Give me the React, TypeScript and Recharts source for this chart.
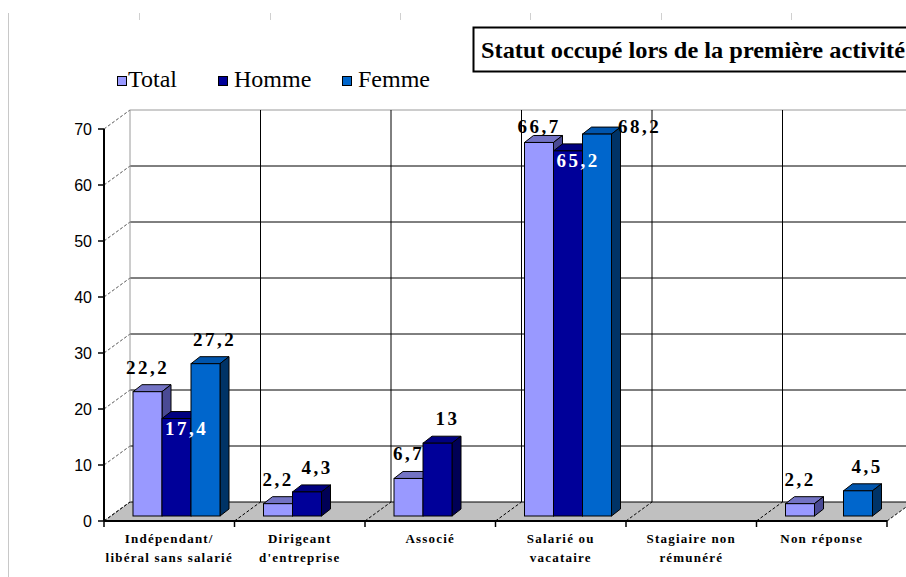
import React from 'react';
import { BarChart, Bar, XAxis, YAxis, CartesianGrid, LabelList } from 'recharts';

// ── Data ──────────────────────────────────────────────────────

const categories = [
  'Indépendant/\nlibéral sans salarié',
  "Dirigeant\nd'entreprise",
  'Associé',
  'Salarié ou\nvacataire',
  'Stagiaire non\nrémunéré',
  'Non réponse',
];
const totalValues = [22.2, 2.2, 6.7, 66.7, null, 2.2];
const hommeValues = [17.4, 4.3, 13, 65.2, null, null];
const femmeValues = [27.2, null, null, 68.2, null, 4.5];
const yTicks = [0, 10, 20, 30, 40, 50, 60, 70];
const seriesNames = ['Total', 'Homme', 'Femme'];
const TITLE = 'Statut occupé lors de la première activité';

const data = categories.map((name, i) => ({
  name,
  Total: totalValues[i],
  Homme: hommeValues[i],
  Femme: femmeValues[i],
}));

// ── Layout / style ────────────────────────────────────────────

const W = 906;
const H = 577;
const PLOT = { left: 111, right: 894, top: 124, bottom: 516 };
const FRONT = { dx: -7, dy: 5 }; // front axis plane vs bar plane
const BACK = { dx: 19, dy: -14 }; // back wall vs bar plane
const DEPTH = { dx: 9, dy: 7 }; // bar depth
const SERIF = '"Liberation Serif", "Times New Roman", serif';
const SANS = '"Liberation Sans", Arial, sans-serif';

const COLORS = [
  { front: '#9999ff', top: '#7373c4', side: '#4a4a94' },
  { front: '#000099', top: '#000080', side: '#000055' },
  { front: '#0066cc', top: '#0055ad', side: '#003366' },
];
const LABEL_SHIFT = [0, 10, 9];

const fmt = (v: number) => String(v).replace('.', ',');

// ── 3D pieces ─────────────────────────────────────────────────

function Bar3D(props: any) {
  const { x, y, width, height, c } = props;
  if (x == null || !height || height <= 0) return null;
  const { dx, dy } = DEPTH;
  return (
    <g>
      <polygon
        points={`${x},${y} ${x + dx},${y - dy} ${x + width + dx},${y - dy} ${x + width},${y}`}
        fill={c.top}
        stroke="#000"
        strokeWidth={1}
      />
      <polygon
        points={`${x + width},${y} ${x + width + dx},${y - dy} ${x + width + dx},${y + height - dy} ${x + width},${y + height}`}
        fill={c.side}
        stroke="#000"
        strokeWidth={1}
      />
      <rect x={x} y={y} width={width} height={height} fill={c.front} stroke="#000" strokeWidth={1} />
    </g>
  );
}

const renderHLine = (p: any) => {
  const { x1, x2, y1 } = p;
  const isFloor = Math.abs(y1 - PLOT.bottom) < 1;
  const isTop = Math.abs(y1 - PLOT.top) < 1;
  const fx = x1 + FRONT.dx;
  const fy = y1 + FRONT.dy;
  const bx = x1 + BACK.dx;
  const by = y1 + BACK.dy;
  return (
    <g key={p.key}>
      {isFloor && (
        <polygon
          points={`${fx},${fy} ${x2 + FRONT.dx},${fy} ${x2 + BACK.dx},${by} ${bx},${by}`}
          fill="#c0c0c0"
        />
      )}
      <line x1={bx} y1={by} x2={x2 + BACK.dx + 40} y2={by} stroke={isTop ? '#9a9a9a' : '#000'} strokeWidth={1} />
      <line x1={fx} y1={fy} x2={bx} y2={by} stroke="#555" strokeWidth={1} strokeDasharray="3 2" />
      {isFloor && <line x1={fx} y1={fy} x2={x2 + FRONT.dx} y2={fy} stroke="#000" strokeWidth={2} />}
      {isTop && (
        <line x1={fx} y1={fy} x2={fx} y2={PLOT.bottom + FRONT.dy} stroke="#000" strokeWidth={2} />
      )}
    </g>
  );
};

const renderVLine = (p: any) => {
  const { x1, y1, y2 } = p;
  const first = Math.abs(x1 - PLOT.left) < 1;
  return (
    <g key={p.key}>
      <line
        x1={x1 + BACK.dx}
        y1={y1 + BACK.dy}
        x2={x1 + BACK.dx}
        y2={y2 + BACK.dy}
        stroke={first ? '#9a9a9a' : '#000'}
        strokeWidth={1}
      />
      <line
        x1={x1 + FRONT.dx}
        y1={y2 + FRONT.dy}
        x2={x1 + BACK.dx}
        y2={y2 + BACK.dy}
        stroke="#000"
        strokeWidth={1}
        strokeDasharray="3 2"
      />
      <line
        x1={x1 + FRONT.dx}
        y1={y2 + FRONT.dy}
        x2={x1 + FRONT.dx}
        y2={y2 + FRONT.dy + 6}
        stroke="#000"
        strokeWidth={1.5}
      />
    </g>
  );
};

const boundaries = ({ offset }: any) =>
  Array.from({ length: categories.length + 1 }, (_, i) => offset.left + (i * offset.width) / categories.length);

function YTick(props: any) {
  const { y, payload } = props;
  const fx = PLOT.left + FRONT.dx;
  const fy = y + FRONT.dy;
  return (
    <g>
      <line x1={fx - 6} y1={fy} x2={fx} y2={fy} stroke="#000" strokeWidth={1.5} />
      <text x={fx - 12} y={fy + 6} textAnchor="end" fontFamily={SANS} fontSize={16} fill="#000">
        {payload.value}
      </text>
    </g>
  );
}

function XTick(props: any) {
  const { x, payload } = props;
  const lines = String(payload.value).split('\n');
  return (
    <g>
      {lines.map((t, i) => (
        <text
          key={i}
          x={x + FRONT.dx}
          y={PLOT.bottom + 27 + i * 19}
          textAnchor="middle"
          fontFamily={SERIF}
          fontWeight="bold"
          fontSize={13}
          letterSpacing={1.2}
          fill="#000"
        >
          {t}
        </text>
      ))}
    </g>
  );
}

const makeLabel = (s: number) => (p: any) => {
  const vb = p.viewBox ?? p;
  const x = vb.x ?? p.x;
  const y = vb.y ?? p.y;
  const width = vb.width ?? p.width;
  const { value, index } = p;
  if (value == null || x == null) return null;
  let cx = x + width / 2 + LABEL_SHIFT[s];
  let base = y - 18;
  let fill = '#000';
  const tot = totalValues[index];
  if (s === 1 && tot != null && value < tot) {
    base = y + 16;
    fill = '#fff';
  } else if (base < PLOT.top + 9) {
    base = PLOT.top + 9;
    if (s === 2) cx = x + width + 28;
  }
  return (
    <text
      key={`lbl-${s}-${index}`}
      x={cx}
      y={base}
      textAnchor="middle"
      fontFamily={SERIF}
      fontWeight="bold"
      fontSize={19}
      letterSpacing={2.5}
      fill={fill}
    >
      {fmt(value)}
    </text>
  );
};

// ── Main ──────────────────────────────────────────────────────

const LEGEND_X = [117, 218, 342];

export default function App() {
  return (
    <div style={{ position: 'absolute', left: 0, top: 0, width: W, height: H, background: '#fff' }}>
      <BarChart
        width={W}
        height={H}
        data={data}
        barGap={0}
        margin={{ top: PLOT.top, right: W - PLOT.right, left: PLOT.left - 60, bottom: H - PLOT.bottom - 30 }}
      >
        <CartesianGrid
          horizontal={renderHLine}
          vertical={renderVLine}
          verticalCoordinatesGenerator={boundaries}
        />
        <XAxis dataKey="name" height={30} axisLine={false} tickLine={false} interval={0} tick={<XTick />} />
        <YAxis
          width={60}
          domain={[0, 70]}
          ticks={yTicks}
          axisLine={false}
          tickLine={false}
          tick={<YTick />}
        />
        {seriesNames.map((name, s) => (
          <Bar
            key={name}
            dataKey={name}
            barSize={29}
            isAnimationActive={false}
            shape={(p: any) => <Bar3D {...p} c={COLORS[s]} />}
          >
            <LabelList dataKey={name} content={makeLabel(s)} />
          </Bar>
        ))}
      </BarChart>

      <svg width={W} height={H} style={{ position: 'absolute', left: 0, top: 0, pointerEvents: 'none' }}>
        <line x1={8.5} y1={13} x2={8.5} y2={H} stroke="#c8c8c8" />
        {[139, 270, 400, 530, 661, 791].map((x) => (
          <line key={x} x1={x + 0.5} y1={13} x2={x + 0.5} y2={20} stroke="#d0d0d0" />
        ))}
        <rect x={473.5} y={27.5} width={470} height={44} fill="#fff" stroke="#000" strokeWidth={2} />
        <text
          x={481}
          y={58}
          fontFamily={SERIF}
          fontWeight="bold"
          fontSize={24}
          textLength={424}
          lengthAdjust="spacingAndGlyphs"
          fill="#000"
        >
          {TITLE}
        </text>
        {seriesNames.map((name, s) => (
          <g key={name}>
            <rect x={LEGEND_X[s] + 0.5} y={76.5} width={9} height={9} fill={COLORS[s].front} stroke="#000" />
            <text x={LEGEND_X[s] + (s === 0 ? 11 : 16)} y={87} fontFamily={SERIF} fontSize={24} fill="#000">
              {name}
            </text>
          </g>
        ))}
      </svg>
    </div>
  );
}
